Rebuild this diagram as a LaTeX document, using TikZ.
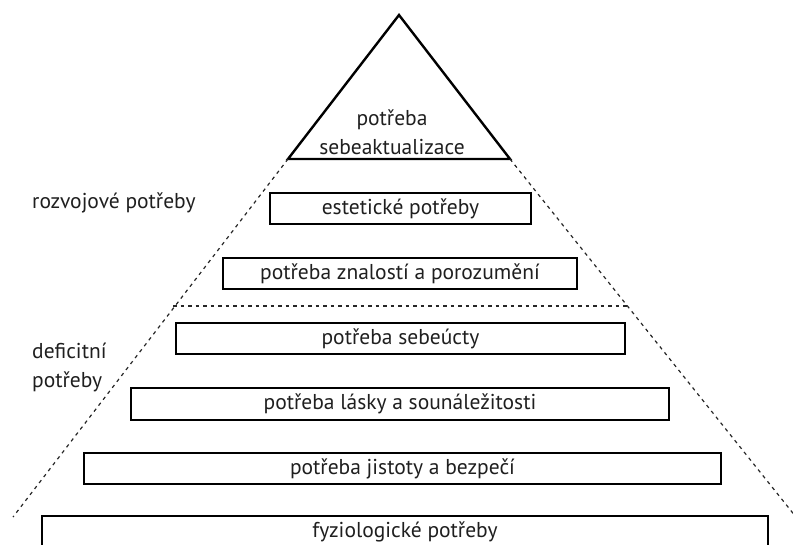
\documentclass[tikz,border=0pt]{standalone}
\usepackage{fontspec}
\setmainfont{PT Sans}
\begin{document}
\begin{tikzpicture}[x=1pt,y=-1pt,
  txt/.style={font=\fontsize{21.5}{29}\selectfont, text=black!88},
  lvl/.style={txt, draw=black, line width=1.1pt, minimum height=31pt, inner sep=0pt},
  divider/.style={draw=black!85, dash pattern=on 3.5pt off 4pt, line width=1.2pt},
  lbl/.style={txt, inner sep=0pt, anchor=west, align=left}]
\useasboundingbox (0,0) rectangle (793,545);
\clip (0,0) rectangle (793,545);
% apex triangle
\coordinate (apex) at (399,15);
\coordinate (bl) at (288,159);
\coordinate (br) at (510,159);
\draw[line width=2.4pt, line join=miter] (apex) -- (bl) -- (br) -- cycle;
\node[txt, align=center] (top) at (392,132) {potřeba\\sebeaktualizace};
% dashed pyramid sides
\coordinate (ll) at (13,517);
\coordinate (rl) at (796,517);
\coordinate (hl) at (173,306);
\coordinate (hr) at (628,306);
\draw[divider] (bl) -- (ll);
\draw[divider] (br) -- (rl);
\draw[divider] (hl) -- (hr);
% levels
\node[lvl, minimum width=261pt] (est) at (400.5,208.5) {estetické potřeby};
\node[lvl, minimum width=354pt] (zna) at (400,273.5) {potřeba znalostí a porozumění};
\node[lvl, minimum width=449pt] (seb) at (400.5,338.5) {potřeba sebeúcty};
\node[lvl, minimum width=538pt, minimum height=32pt] (las) at (400,404) {potřeba lásky a sounáležitosti};
\node[lvl, minimum width=637pt] (jis) at (402.5,468.5) {potřeba jistoty a bezpečí};
\node[lvl, minimum width=726pt, minimum height=40pt] (fyz) at (405,536) {};
\node[txt, anchor=base, inner sep=0pt] (fyzt) at (405,537.5) {fyziologické potřeby};
% side labels
\node[lbl] (rozv) at (32,203) {rozvojové potřeby};
\node[lbl] (defi) at (32,367.5) {deficitní\\potřeby};
\end{tikzpicture}
\end{document}
